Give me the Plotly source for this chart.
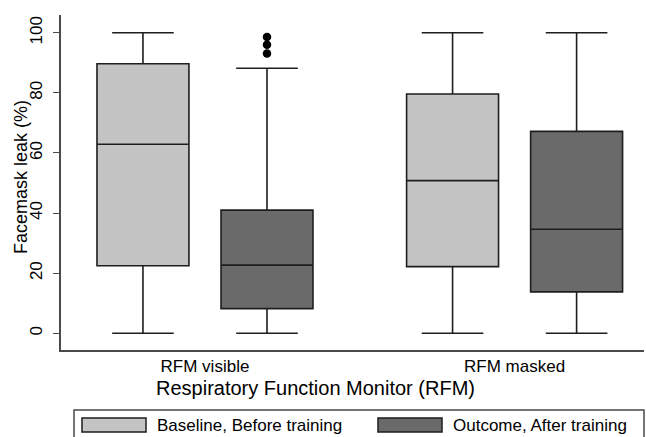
import plotly.graph_objects as go

# ---- data ----
categories = ["RFM visible", "RFM masked"]
series_names = ["Baseline, Before training", "Outcome, After training"]

baseline_lower = [0, 0]
baseline_q1 = [22.5, 22.2]
baseline_median = [62.9, 50.8]
baseline_q3 = [89.7, 79.6]
baseline_upper = [100, 100]

outcome_lower = [0, 0]
outcome_q1 = [8.2, 13.8]
outcome_median = [22.7, 34.6]
outcome_q3 = [41.0, 67.2]
outcome_upper = [88.2, 100]

outcome_outliers_visible = [93.1, 96.0, 98.6]

y_ticks = [0, 20, 40, 60, 80, 100]

# ---- style ----
W, H = 646, 437
L, R, T, B = 61, 2, 15, 87
FONT = "Liberation Sans, Arial, Helvetica, sans-serif"
LIGHT = "#c4c4c4"
DARK = "#6a6a6a"
EDGE = "#1e1e1e"
AXIS = "#4a4a4a"
OFFSET = 0.2003   # half distance between the two boxes of a group (data units)
BOXW = 0.297

pw = W - L - R
ph = H - T - B
def px_x(x):
    return (x - L) / pw
def px_y(y):
    return (H - B - y) / ph

cat_idx = list(range(len(categories)))

fig = go.Figure()
fig.add_trace(go.Box(
    x=[i - OFFSET for i in cat_idx],
    q1=baseline_q1, median=baseline_median, q3=baseline_q3,
    lowerfence=baseline_lower, upperfence=baseline_upper,
    name=series_names[0], width=BOXW, whiskerwidth=0.67,
    fillcolor=LIGHT, line=dict(color=EDGE, width=1.6),
    boxpoints=False, showlegend=False, hoverinfo="skip",
))
fig.add_trace(go.Box(
    x=[i + OFFSET for i in cat_idx],
    q1=outcome_q1, median=outcome_median, q3=outcome_q3,
    lowerfence=outcome_lower, upperfence=outcome_upper,
    name=series_names[1], width=BOXW, whiskerwidth=0.67,
    fillcolor=DARK, line=dict(color=EDGE, width=1.6),
    boxpoints=False, showlegend=False, hoverinfo="skip",
))
fig.add_trace(go.Scatter(
    x=[cat_idx[0] + OFFSET] * len(outcome_outliers_visible),
    y=outcome_outliers_visible, mode="markers",
    marker=dict(color="black", size=8.5), showlegend=False, hoverinfo="skip",
))

# manual legend (wide swatches like the original)
shapes = [
    dict(type="rect", xref="paper", yref="paper",
         x0=px_x(74), x1=px_x(644), y0=px_y(450), y1=px_y(410),
         line=dict(color=AXIS, width=1.5), fillcolor="rgba(0,0,0,0)"),
    dict(type="rect", xref="paper", yref="paper",
         x0=px_x(82), x1=px_x(146), y0=px_y(432), y1=px_y(418),
         line=dict(color=EDGE, width=1.5), fillcolor=LIGHT),
    dict(type="rect", xref="paper", yref="paper",
         x0=px_x(378), x1=px_x(442), y0=px_y(432), y1=px_y(418),
         line=dict(color=EDGE, width=1.5), fillcolor=DARK),
]
annotations = [
    dict(text=series_names[0], xref="paper", yref="paper",
         x=px_x(155), y=px_y(425), xanchor="left", yanchor="middle",
         showarrow=False, font=dict(size=17, color="black", family=FONT)),
    dict(text=series_names[1], xref="paper", yref="paper",
         x=px_x(451), y=px_y(425), xanchor="left", yanchor="middle",
         showarrow=False, font=dict(size=17, color="black", family=FONT)),
    dict(text="Facemask leak (%)", xref="paper", yref="paper",
         x=px_x(21), y=px_y(177), xanchor="center", yanchor="middle",
         textangle=-90, showarrow=False,
         font=dict(size=18, color="black", family=FONT)),
    dict(text="Respiratory Function Monitor (RFM)", xref="paper", yref="paper",
         x=px_x(315), y=px_y(388), xanchor="center", yanchor="middle",
         showarrow=False, font=dict(size=20, color="black", family=FONT)),
]

fig.update_layout(
    width=W, height=H,
    margin=dict(l=L, r=R, t=T, b=B, pad=0),
    paper_bgcolor="white", plot_bgcolor="white",
    font=dict(family=FONT, size=16, color="black"),
    shapes=shapes, annotations=annotations,
    boxmode="overlay",
    xaxis=dict(
        range=[-0.465, 1.418], tickvals=cat_idx, ticktext=categories,
        showgrid=False, zeroline=False, showline=True, linecolor=AXIS,
        linewidth=1.5, ticks="", tickfont=dict(size=17),
    ),
    yaxis=dict(
        range=[-5.55, 105.9], tickvals=y_ticks, showgrid=False,
        zeroline=False, showline=True, linecolor=AXIS, linewidth=1.5,
        ticks="outside", ticklen=6, tickcolor=AXIS, tickwidth=1.3,
        tickangle=-90, tickfont=dict(size=17), ticklabelstandoff=4,
    ),
)

fig.write_html(
    "out.html",
    config={"displayModeBar": False},
    post_script="document.body.style.margin='0';document.body.style.overflow='hidden';",
)
